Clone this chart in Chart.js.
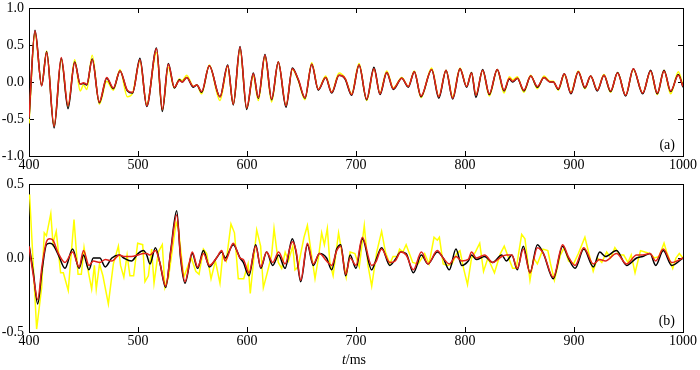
<!DOCTYPE html>
<html><head><meta charset="utf-8">
<script src="https://cdn.jsdelivr.net/npm/chart.js@4.4.1/dist/chart.umd.min.js"></script>
<style>html,body{margin:0;padding:0;background:#fff;overflow:hidden;} canvas{position:absolute;left:0;}</style>
</head><body>
<canvas id="ca" width="700" height="175" style="top:0"></canvas>
<canvas id="cb" width="700" height="195" style="top:175px"></canvas>
<script>
// ---------- DATA ----------
const xTicks = [400, 500, 600, 700, 800, 900, 1000];
const topYTicks = [-1.0, -0.5, 0.0, 0.5, 1.0];
const botYTicks = [-0.5, 0.0, 0.5];

// panel (a)
const topTime = [400,405.5,411.6,416.2,423,429.6,435.8,441.9,447,450,453,458,464.5,471.3,477.4,483.5,490.2,495,501.8,508,517,522.3,527.8,533.3,538,540.5,544.7,550.8,554,558.4,565.4,575.2,582.3,587.4,593.6,599.7,605.8,610.4,616.5,622.6,628.7,635.8,641.6,647,653.2,659.4,665.4,672.2,677.7,684.4,690,696,702.8,709.8,716.5,722,728.2,734.2,742,748,753.5,759.6,769.4,776,782.6,788.7,795.4,801.5,806,810,816.2,822.3,829.6,835.8,840.7,843.7,848,854,860.3,866.4,872.5,878,881,885.6,891.1,897.2,903.9,910,915.3,921.4,927.5,933.6,940,947.4,954.4,963,970.3,976.4,982.6,988.7,995.7,1000];
const topBlack = [-0.50,0.70,-0.05,0.41,-0.62,0.32,-0.36,0.27,-0.03,-0.02,-0.04,0.31,-0.28,0.05,-0.09,0.15,-0.12,-0.15,0.32,-0.33,0.46,-0.40,0.25,-0.08,0.03,0.0,0.06,-0.07,-0.04,-0.14,0.22,-0.20,0.23,-0.31,0.48,-0.37,0.12,-0.22,0.37,-0.24,0.27,-0.34,0.19,0.03,-0.22,0.24,-0.11,0.06,-0.15,0.09,0.04,-0.18,0.23,-0.24,0.20,-0.17,0.13,-0.10,0.05,-0.07,0.14,-0.20,0.17,-0.22,0.16,-0.23,0.18,-0.07,0.13,-0.21,0.17,-0.17,0.17,-0.12,0.04,0.0,0.05,-0.12,0.08,-0.07,0.06,0.0,0.0,-0.10,0.11,-0.16,0.14,-0.08,0.08,-0.12,0.09,-0.13,0.13,-0.19,0.18,-0.16,0.16,-0.16,0.16,-0.13,0.10,-0.07];
const topRed = [-0.48,0.69,-0.05,0.40,-0.60,0.33,-0.32,0.26,-0.03,-0.01,-0.03,0.30,-0.27,0.06,-0.08,0.15,-0.11,-0.14,0.30,-0.32,0.45,-0.37,0.24,-0.07,0.02,0.0,0.06,-0.06,-0.04,-0.13,0.22,-0.20,0.22,-0.30,0.47,-0.35,0.11,-0.21,0.36,-0.23,0.27,-0.32,0.18,0.04,-0.21,0.24,-0.10,0.06,-0.14,0.09,0.05,-0.17,0.23,-0.23,0.18,-0.16,0.13,-0.09,0.05,-0.06,0.14,-0.19,0.17,-0.20,0.16,-0.22,0.18,-0.06,0.12,-0.18,0.16,-0.16,0.17,-0.11,0.05,0.01,0.05,-0.11,0.08,-0.06,0.06,0.0,0.0,-0.09,0.11,-0.15,0.14,-0.07,0.08,-0.11,0.09,-0.12,0.12,-0.18,0.18,-0.15,0.15,-0.15,0.15,-0.12,0.09,-0.06];
const topYellow = [-0.56,0.66,-0.04,0.42,-0.60,0.30,-0.33,0.30,-0.12,-0.04,-0.10,0.36,-0.30,0.01,-0.11,0.17,-0.20,-0.15,0.28,-0.30,0.40,-0.38,0.20,-0.08,0.04,0.02,0.09,-0.06,-0.04,-0.16,0.23,-0.25,0.21,-0.30,0.44,-0.36,0.08,-0.25,0.34,-0.27,0.27,-0.32,0.17,0.02,-0.24,0.26,-0.10,0.08,-0.14,0.12,0.05,-0.16,0.25,-0.25,0.18,-0.15,0.15,-0.08,0.06,-0.06,0.15,-0.21,0.19,-0.20,0.16,-0.20,0.19,-0.06,0.13,-0.18,0.16,-0.19,0.17,-0.15,0.07,0.03,0.07,-0.14,0.09,-0.09,0.08,0.01,0.01,-0.11,0.10,-0.14,0.15,-0.09,0.08,-0.11,0.10,-0.14,0.13,-0.18,0.17,-0.15,0.15,-0.17,0.16,-0.16,0.14,-0.05];

// panel (b)
const botTime = [400,404,408,412,416,419,422,427,433,440,446,450,455,459,465,470,476,483,487,494,500,505,508,511,516,520,525.4,530,535.5,539,543.1,549.8,554.7,560,565.5,572,576.8,580,587.4,593.6,596.6,601.8,608,612.6,618,623.6,629,634.9,641.6,645,649.3,655.4,660.8,666.5,673,677.7,682.3,686,690.5,694.6,700,705.8,714.4,718,723.5,731,736,741,746,752.6,760,766,774.6,780,785.6,791.7,797,803,806,810.5,818,825.4,833.7,838,843,848,853.5,859.6,866.4,872,881,889.6,894.8,901,909,917.7,923.6,928.8,939,948.3,957.4,963,969.7,975,981.9,989.6,1000];
const botBlack = [0.09,-0.10,-0.31,-0.08,0.09,0.10,0.09,0.02,-0.07,0.06,-0.07,0.02,-0.08,0.0,0.0,-0.06,0.0,0.02,0.0,-0.02,0.03,0.05,0.02,-0.04,0.07,-0.03,-0.20,0.05,0.32,0.0,-0.17,0.03,-0.07,0.05,-0.06,0.0,0.04,0.0,0.09,0.0,-0.03,-0.12,0.09,-0.07,0.04,-0.05,0.02,-0.07,0.13,0.04,-0.16,0.09,-0.05,0.03,0.0,-0.08,0.06,0.09,-0.12,0.02,-0.07,0.13,-0.08,-0.02,0.07,-0.05,-0.01,0.04,0.03,-0.10,0.02,-0.04,0.04,0.0,-0.08,0.06,-0.05,-0.02,0.02,-0.01,0.01,-0.03,0.02,-0.02,0.02,-0.08,0.08,-0.10,0.09,0.03,-0.14,0.08,0.0,-0.07,0.06,-0.06,0.04,0.01,0.05,-0.05,0.0,0.01,0.03,-0.05,0.05,-0.05,0.0];
const botRed = [0.08,-0.12,-0.28,-0.05,0.11,0.13,0.12,0.03,-0.03,0.04,-0.06,0.05,-0.05,-0.02,-0.03,-0.01,-0.02,0.02,0.01,0.01,0.02,0.03,0.03,0.02,0.05,-0.03,-0.19,0.04,0.29,0.02,-0.16,0.04,-0.06,0.03,-0.05,0.0,0.05,-0.02,0.10,0.0,-0.01,-0.10,0.08,-0.06,0.04,-0.03,0.04,-0.04,0.11,0.05,-0.15,0.10,-0.04,0.03,-0.02,-0.05,0.05,0.08,-0.11,0.0,-0.05,0.14,-0.05,-0.03,0.06,-0.03,-0.02,0.04,0.02,-0.08,0.04,-0.04,0.05,0.0,-0.04,0.01,-0.02,-0.01,0.04,0.0,0.02,-0.03,0.01,0.02,0.02,-0.07,0.06,-0.10,0.07,0.03,-0.13,0.09,0.01,-0.05,0.07,-0.04,-0.01,-0.02,0.03,-0.04,0.02,0.02,0.03,-0.02,0.06,-0.03,0.0];
const yelTime = [400.5,407,411.6,414,416,420,422,425,429,431.5,436,441.3,445,448,450.5,452,457.5,460,461.7,464.7,467.8,472.8,477.4,482,484,487,490,492.6,496,499.7,504.3,506.4,509.5,512.5,514.7,518.6,522.3,524.7,528,535,537,542,546,549,553,556,560,563,567,571,575.2,577.8,581,585.3,588.5,592,597,601,603,608.9,612.5,615,618.6,622.6,624.8,628.7,631.8,635,638,642,644,647,649.3,652.3,655.4,659.4,662.4,665.5,668.5,671,673.7,676,679,684,687,691,694.6,699,703,707.6,711,714.4,719,723.5,727,731,734,738,740,743,746,752,757,763,767,771.6,774.6,776.5,780,784,788,792.5,795.4,798.7,802.3,806,809.5,813.5,817,821,827,832.5,836,839,843.7,847,852,855,859.6,863,866.4,871.5,876,878.5,882,887.5,891,895,899.6,904,910,914,917.6,921.5,925.5,930,933.6,937.5,942,945.6,949.5,952.5,956,961,965,969.7,974,978,982.6,985,990.6,993.5,996.6,1000];
const yelVal = [0.43,-0.48,-0.20,0.17,0.15,0.30,0.10,0.18,-0.10,-0.10,-0.22,0.26,-0.11,-0.11,0.07,0.0,-0.21,-0.05,-0.21,-0.04,-0.12,-0.31,-0.04,0.08,-0.05,-0.13,0.02,-0.12,-0.12,0.10,0.09,-0.16,-0.12,0.06,-0.17,0.04,0.09,-0.20,-0.13,0.24,0.20,-0.13,-0.05,0.0,-0.09,-0.11,0.06,0.03,-0.14,-0.02,-0.17,0.03,-0.02,0.23,0.17,-0.14,-0.14,-0.04,-0.24,0.19,0.08,-0.20,-0.10,0.02,0.20,-0.03,-0.07,0.04,-0.02,0.08,-0.08,-0.06,0.03,0.14,0.22,0.01,-0.14,0.0,0.17,0.09,0.20,-0.03,-0.12,0.17,0.04,-0.13,0.04,0.03,-0.06,0.22,-0.05,-0.19,0.04,0.18,0.04,-0.04,0.01,0.01,0.06,0.04,0.09,-0.03,-0.04,0.03,-0.04,0.14,0.12,0.14,-0.04,-0.05,-0.04,0.03,0.05,-0.07,-0.18,0.0,0.04,0.10,-0.09,0.0,-0.10,0.03,0.08,0.02,-0.07,-0.07,0.16,0.13,-0.15,0.0,-0.04,0.06,0.05,-0.04,-0.15,0.02,0.07,-0.02,-0.04,0.03,0.14,0.02,-0.09,0.0,-0.03,0.04,0.0,0.07,0.02,0.02,-0.03,0.02,-0.10,0.05,0.04,0.03,0.0,0.01,0.10,0.04,-0.07,0.0,0.03,0.0];

// ---------- CHART ----------
const SERIF = "'Liberation Serif','Times New Roman',serif";
const RED = '#e3231b', BLACK = '#000000', YEL = '#ffff00';
Chart.defaults.font.family = SERIF;
function pts(t, v) { return t.map((x, i) => ({ x: x, y: v[i] })); }

function zeroPad(s) { s.paddingTop = 0; s.paddingBottom = 0; s.paddingLeft = 0; s.paddingRight = 0; }

function scales(yTicks, xh) {
  const ymin = yTicks[0], ymax = yTicks[yTicks.length - 1];
  const grid = { display: true, drawOnChartArea: false, drawTicks: true, tickLength: -5, color: '#000', lineWidth: 1 };
  const border = { display: true, color: '#000', width: 1 };
  return {
    x: { type: 'linear', position: 'bottom', min: 400, max: 1000, grid: grid, border: border,
      afterBuildTicks: s => { s.ticks = xTicks.map(v => ({ value: v })); },
      ticks: { color: '#000', padding: 6, maxRotation: 0, autoSkip: false, font: { family: SERIF, size: 14 }, callback: v => String(v) },
      afterFit: s => { s.height = xh; zeroPad(s); } },
    x2: { type: 'linear', position: 'top', min: 400, max: 1000, grid: grid, border: border,
      afterBuildTicks: s => { s.ticks = xTicks.map(v => ({ value: v })); },
      ticks: { display: false }, afterFit: s => { s.height = 0; zeroPad(s); } },
    y: { type: 'linear', position: 'left', min: ymin, max: ymax, grid: grid, border: border,
      afterBuildTicks: s => { s.ticks = yTicks.map(v => ({ value: v })); },
      ticks: { color: '#000', padding: 10, autoSkip: false, font: { family: SERIF, size: 14 }, callback: v => Number(v).toFixed(1) },
      afterFit: s => { s.width = 29; zeroPad(s); } },
    y2: { type: 'linear', position: 'right', min: ymin, max: ymax, grid: grid, border: border,
      afterBuildTicks: s => { s.ticks = yTicks.map(v => ({ value: v })); },
      ticks: { display: false }, afterFit: s => { s.width = 0; zeroPad(s); } }
  };
}

function labelPlugin(tag, withTitle) {
  return {
    id: 'lbl' + tag.replace(/[()]/g, ''),
    afterDraw(chart) {
      const ctx = chart.ctx, a = chart.chartArea;
      ctx.save();
      ctx.fillStyle = '#000';
      ctx.font = '14px ' + SERIF;
      ctx.textAlign = 'right';
      ctx.textBaseline = 'middle';
      ctx.fillText(tag, a.right - 8, a.bottom - 11);
      if (withTitle) {
        const tIt = 't', rest = '/ms';
        ctx.font = 'italic 14px ' + SERIF;
        const w1 = ctx.measureText(tIt).width;
        ctx.font = '14px ' + SERIF;
        const w2 = ctx.measureText(rest).width;
        const cx = (a.left + a.right) / 2 - 2;
        const x0 = cx - (w1 + w2) / 2, y = a.bottom + 28;
        ctx.textAlign = 'left';
        ctx.font = 'italic 14px ' + SERIF;
        ctx.fillText(tIt, x0, y);
        ctx.font = '14px ' + SERIF;
        ctx.fillText(rest, x0 + w1, y);
      }
      ctx.restore();
    }
  };
}

function lineDs(data, color, smooth) {
  return { data: data, borderColor: color, backgroundColor: color, borderWidth: 1.5, pointRadius: 0,
    fill: false, tension: smooth ? 0.4 : 0, cubicInterpolationMode: smooth ? 'monotone' : 'default' };
}

const common = (yTicks, xh, padTop) => ({
  responsive: false, animation: false, devicePixelRatio: 1,
  layout: { padding: { left: 0, right: 17, top: padTop, bottom: 0 } },
  plugins: { legend: { display: false }, tooltip: { enabled: false } },
  scales: scales(yTicks, xh)
});

new Chart(document.getElementById('ca'), {
  type: 'line',
  data: { datasets: [
    lineDs(pts(topTime, topRed), RED, true),
    lineDs(pts(topTime, topBlack), BLACK, true),
    lineDs(pts(topTime, topYellow), YEL, true)
  ] },
  options: common(topYTicks, 19, 8),
  plugins: [labelPlugin('(a)', false)]
});

new Chart(document.getElementById('cb'), {
  type: 'line',
  data: { datasets: [
    lineDs(pts(botTime, botRed), RED, true),
    lineDs(pts(botTime, botBlack), BLACK, true),
    lineDs(pts(yelTime, yelVal), YEL, false)
  ] },
  options: common(botYTicks, 38, 9),
  plugins: [labelPlugin('(b)', true)]
});
</script>
</body></html>
